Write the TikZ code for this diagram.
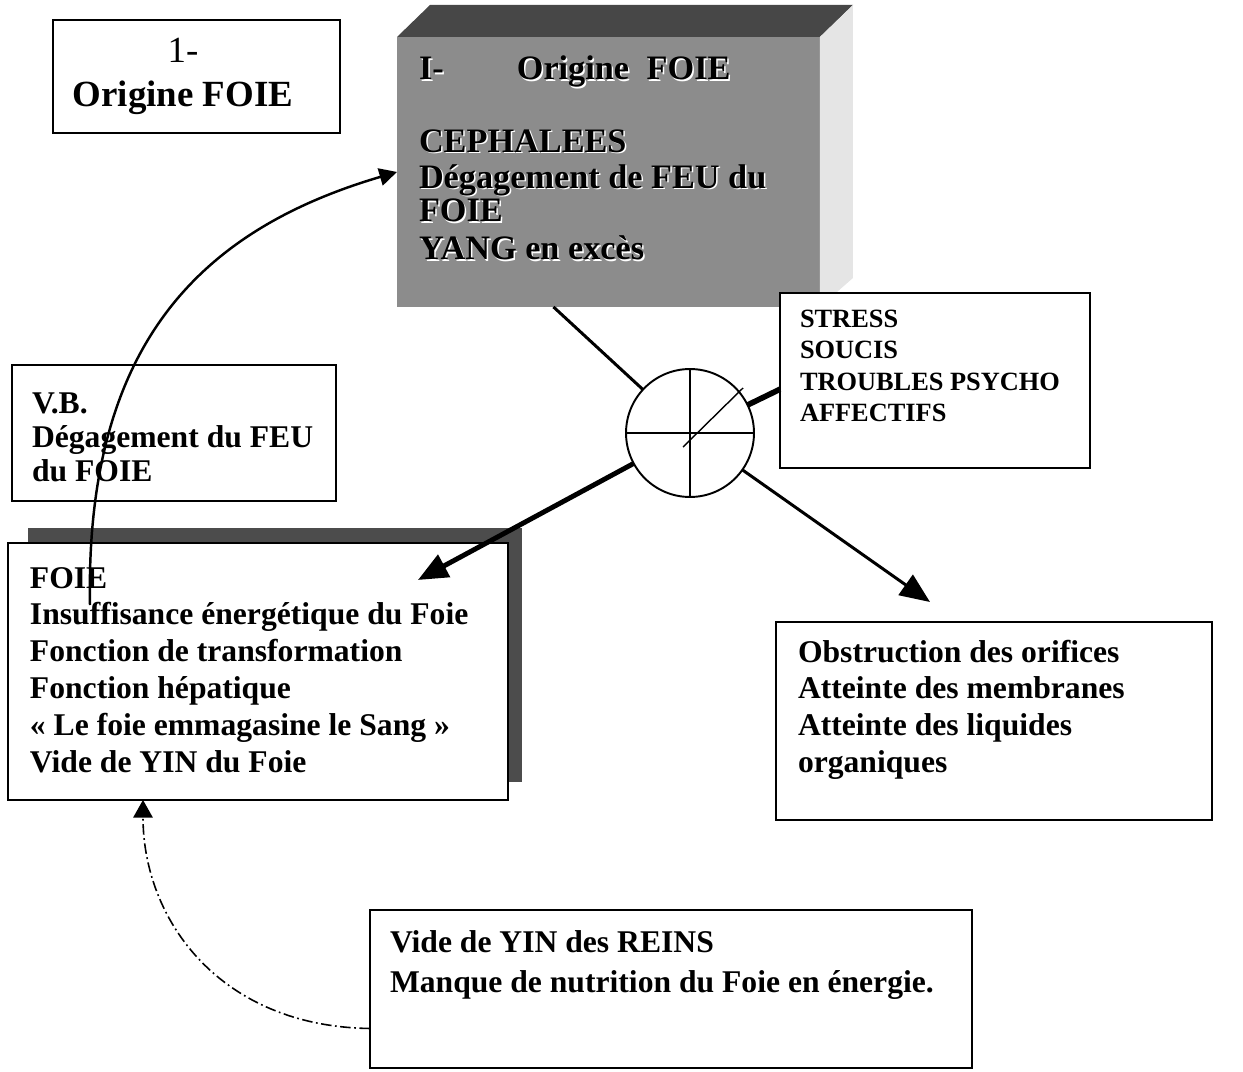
\documentclass[tikz,border=0pt]{standalone}
\usepackage{fontspec}
\setmainfont{Liberation Serif}
\usetikzlibrary{arrows.meta,calc,positioning}

\newcommand{\rows}[2][l]{\begin{tabular}[t]{@{}#1@{}}#2\end{tabular}}
\newcommand{\cubelines}{\rows{\makebox[55.7pt][l]{I-}Origine\hspace{10pt}FOIE\\[19.4pt]
    CEPHALEES\\[-1.1pt]
    Dégagement de FEU du\\[-2.3pt]
    FOIE\\
    YANG en excès}}

\begin{document}
\begin{tikzpicture}[
    x=0.02cm, y=-0.02cm,
    every node/.style={inner sep=0pt, outer sep=0pt},
    box/.style={
        draw=black,
        line width=0.9pt,
        fill=white,
        anchor=north west
    },
    boxtext/.style={anchor=base west, font=\bfseries\fontsize{18}{21}\selectfont},
    link/.style={line width=1.7pt},
    bigarrow/.style={-{Triangle[length=17pt,width=14pt]}},
    curvearrow/.style={-{Triangle[length=10pt,width=10pt]}, line width=1.4pt},
    dasharrow/.style={-{Triangle[length=10pt,width=11pt]}, line width=0.9pt,
        dash pattern=on 6pt off 2pt on 1pt off 2pt}
]
\useasboundingbox (0,0) rectangle (1243,1071);

% Title box
\node[box, minimum width=5.74cm, minimum height=2.26cm] (orig) at (53,20) {};
\node[boxtext, anchor=base, font=\bfseries\fontsize{21}{25}\selectfont] (origtxt) at (183,63)
    {\rows[c]{{\mdseries 1-}\\Origine FOIE}};

% Shaded block
\node[anchor=north west, fill=black!45, minimum width=8.46cm, minimum height=5.4cm] (cube) at (397,37) {};
\fill[black!72] (cube.north west) -- ++(33,-32) -- ++(423,0) -- (cube.north east) -- cycle;
\fill[black!10] (cube.north east) -- ++(33,-32) -- ++(0,273) -- (cube.south east) -- cycle;
\node[boxtext, text=white, font=\bfseries\fontsize{19.5}{21.6}\selectfont] (cubeglow) at (420.5,81.5) {\cubelines};
\node[boxtext, font=\bfseries\fontsize{19.5}{21.6}\selectfont] (cubetxt) at (419,80) {\cubelines};

% Causes
\node[box, minimum width=6.2cm, minimum height=3.5cm] (stress) at (780,293) {};
\node[boxtext, font=\bfseries\fontsize{15}{18}\selectfont] (stresstxt) at (800,327)
    {\rows{STRESS\\SOUCIS\\TROUBLES PSYCHO\\AFFECTIFS}};

% Hub
\node[circle, draw=black, line width=1.1pt, fill=white, minimum size=2.56cm] (hub) at (690,433) {};
\draw[line width=0.8pt] (hub.north) -- (hub.south);
\draw[line width=0.8pt] (hub.west) -- (hub.east);
\draw[line width=0.8pt] ($(hub.center)+(-7,14)$) -- ($(hub.center)+(53,-45)$);

% V.B.
\node[box, minimum width=6.48cm, minimum height=2.72cm] (vb) at (12,365) {};
\node[boxtext, font=\bfseries\fontsize{18}{19.4}\selectfont] (vbtxt) at (32,413)
    {\rows{V.B.\\Dégagement du FEU\\du FOIE}};

% FOIE with shadow
\node[anchor=north west, fill=black!70, minimum width=9.88cm, minimum height=5.08cm] (foieshadow) at (28,528) {};
\node[box, minimum width=10cm, minimum height=5.14cm] (foie) at (8,543) {};
\node[boxtext] (foietxt) at (30,588)
    {\rows{FOIE\\Insuffisance énergétique du Foie\\Fonction de transformation\\Fonction hépatique\\« Le foie emmagasine le Sang »\\Vide de YIN du Foie}};

% Consequences
\node[box, minimum width=8.72cm, minimum height=3.96cm] (obstr) at (776,622) {};
\node[boxtext] (obstrtxt) at (798,662)
    {\rows{Obstruction des orifices\\Atteinte des membranes\\Atteinte des liquides\\organiques}};

% Kidneys
\node[box, minimum width=12.04cm, minimum height=3.16cm] (reins) at (370,910) {};
\node[boxtext, font=\bfseries\fontsize{18}{22.8}\selectfont] (reinstxt) at (390,952)
    {\rows{Vide de YIN des REINS\\Manque de nutrition du Foie en énergie.}};

% Relations
\coordinate (foietip) at ($(foie.north east)+(-90,37)$);
\coordinate (obstrtip) at ($(obstr.north west)+(154,-20)$);
\coordinate (curvestart) at ($(foie.north west)+(82,62)$);
\coordinate (dashstart) at ($(reins.north west)!0.75!(reins.south west)$);
\coordinate (foiebase) at ($(foie.south west)+(135,0)$);

\draw[link] ($(cube.south west)!0.37!(cube.south east)$) -- (hub);
\draw[link, line width=3.2pt] ($(stress.north west)!0.55!(stress.south west)$) -- (hub);
\draw[bigarrow, line width=2.8pt] (hub) -- (foietip);
\draw[bigarrow, line width=1.7pt] (hub) -- (obstrtip);
\draw[curvearrow] (curvestart) .. controls +(-5,-260) and +(-197,58) .. (cube.west);
\draw[dasharrow] (dashstart) .. controls +(-150,-2) and +(0,120) .. (foiebase);

\end{tikzpicture}
\end{document}
